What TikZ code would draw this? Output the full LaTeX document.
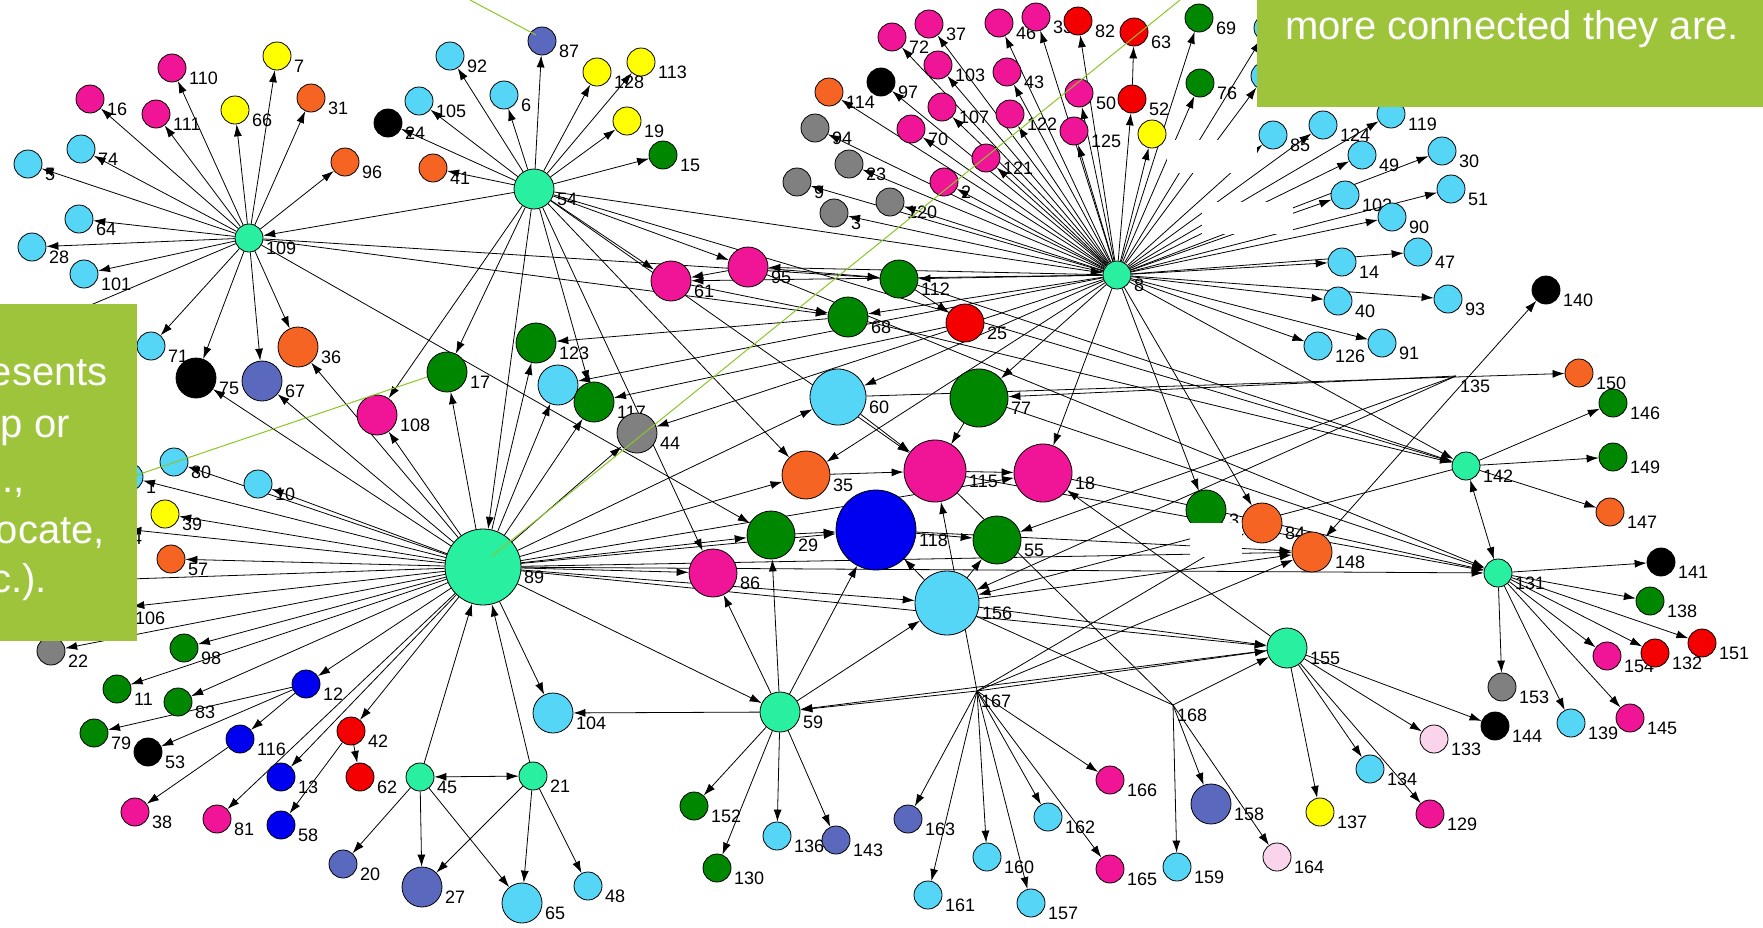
\documentclass[tikz,border=0pt]{standalone}
\usepackage{fontspec}
\setmainfont{Liberation Sans}
\usetikzlibrary{arrows.meta}
\definecolor{ccy}{RGB}{86,214,246}
\definecolor{chub}{RGB}{40,240,160}
\definecolor{cmag}{RGB}{240,20,150}
\definecolor{cyel}{RGB}{255,255,0}
\definecolor{cora}{RGB}{245,100,35}
\definecolor{cgrn}{RGB}{0,135,0}
\definecolor{cgry}{RGB}{128,128,128}
\definecolor{cslt}{RGB}{90,105,190}
\definecolor{cblu}{RGB}{0,0,240}
\definecolor{cred}{RGB}{245,0,0}
\definecolor{cpal}{RGB}{250,212,235}
\definecolor{boxg}{RGB}{157,196,58}
\definecolor{anng}{RGB}{140,198,40}
\pgfdeclarelayer{bg}\pgfsetlayers{bg,main}
\tikzset{
 vtx/.style={circle,draw=black,line width=0.8pt,inner sep=0pt},
 lbl/.style={anchor=north west,inner sep=0pt,font=\fontsize{18}{18}\selectfont},
 arr/.style={draw=black,line width=0.8pt,-{Latex[length=12pt,width=8pt]}},
 arrb/.style={draw=black,line width=0.8pt,{Latex[length=12pt,width=8pt]}-{Latex[length=12pt,width=8pt]}},
 ann/.style={draw=anng,line width=1pt},
 boxtxt/.style={text=white,inner sep=0pt,font=\fontsize{40}{40}\selectfont}
}
\newcommand\mknode[6]{%
 \node[vtx,minimum size=#4*2pt,fill=#5] (#1) at (#2,#3) {};
 \node[lbl] (#1l) at ({#2+#4+3},{#3+4}) {#6};}
\newcommand\mkpoint[4]{%
 \coordinate (#1) at (#2,#3);
 \node[lbl] (#1l) at ({#2+4},{#3+4}) {#4};}
\begin{document}
\begin{tikzpicture}[x=1pt,y=-1pt]
\useasboundingbox (0,0) rectangle (1763,927);
% ---- nodes: 109 cluster
\mknode{n109}{249}{238}{14}{chub}{109}
\mknode{n110}{172}{68}{14}{cmag}{110}
\mknode{n16}{90}{99}{14}{cmag}{16}
\mknode{n111}{156}{114}{14}{cmag}{111}
\mknode{n66}{235}{110}{14}{cyel}{66}
\mknode{n7}{277}{56}{14}{cyel}{7}
\mknode{n31}{311}{98}{14}{cora}{31}
\mknode{n96}{345}{162}{14}{cora}{96}
\mknode{n74}{81}{149}{14}{ccy}{74}
\mknode{n5}{28}{164}{14}{ccy}{5}
\mknode{n64}{79}{219}{14}{ccy}{64}
\mknode{n28}{32}{247}{14}{ccy}{28}
\mknode{n101}{84}{274}{14}{ccy}{101}
\mknode{n71}{151}{346}{14}{ccy}{71}
\mknode{n75}{196}{378}{20}{black}{75}
\mknode{n67}{262}{381}{20}{cslt}{67}
\mknode{n36}{298}{347}{20}{cora}{36}
\mknode{n24}{388}{123}{14}{black}{24}
\mknode{n105}{419}{101}{14}{ccy}{105}
\mknode{n41}{433}{168}{14}{cora}{41}
% ---- 54 cluster
\mknode{n54}{534}{189}{20}{chub}{54}
\mknode{n87}{542}{41}{14}{cslt}{87}
\mknode{n92}{450}{56}{14}{ccy}{92}
\mknode{n6}{504}{95}{14}{ccy}{6}
\mknode{n128}{597}{72}{14}{cyel}{128}
\mknode{n113}{641}{62}{14}{cyel}{113}
\mknode{n19}{627}{121}{14}{cyel}{19}
\mknode{n15}{663}{155}{14}{cgrn}{15}
\mknode{n95}{748}{267}{20}{cmag}{95}
\mknode{n61}{671}{281}{20}{cmag}{61}
\mknode{n112}{899}{279}{19}{cgrn}{112}
\mknode{n68}{848}{317}{20}{cgrn}{68}
\mknode{n25}{965}{323}{19}{cred}{25}
% ---- 8 cluster
\mknode{n8}{1117}{275}{14}{chub}{8}
\mknode{n114}{829}{92}{14}{cora}{114}
\mknode{n97}{881}{82}{14}{black}{97}
\mknode{n94}{815}{128}{14}{cgry}{94}
\mknode{n23}{849}{164}{14}{cgry}{23}
\mknode{n9}{797}{182}{14}{cgry}{9}
\mknode{n3}{834}{213}{14}{cgry}{3}
\mknode{n120}{890}{202}{14}{cgry}{120}
\mknode{n72}{892}{37}{14}{cmag}{72}
\mknode{n37}{929}{24}{14}{cmag}{37}
\mknode{n103}{938}{65}{14}{cmag}{103}
\mknode{n107}{942}{107}{14}{cmag}{107}
\mknode{n70}{911}{129}{14}{cmag}{70}
\mknode{n121}{986}{158}{14}{cmag}{121}
\mknode{n2}{944}{182}{14}{cmag}{2}
\mknode{n46}{999}{23}{14}{cmag}{46}
\mknode{n33}{1036}{17}{14}{cmag}{33}
\mknode{n82}{1078}{21}{14}{cred}{82}
\mknode{n63}{1134}{32}{14}{cred}{63}
\mknode{n43}{1007}{72}{14}{cmag}{43}
\mknode{n122}{1010}{114}{14}{cmag}{122}
\mknode{n50}{1079}{93}{14}{cmag}{50}
\mknode{n125}{1074}{131}{14}{cmag}{125}
\mknode{n52}{1132}{99}{14}{cred}{52}
\mknode{nY}{1152}{134}{14}{cyel}{}
\mknode{n69}{1199}{18}{14}{cgrn}{69}
\mknode{n76}{1200}{83}{14}{cgrn}{76}
\mknode{hA}{1268}{28}{14}{ccy}{}
\mknode{hB}{1265}{76}{14}{ccy}{}
\mknode{n85}{1273}{135}{14}{ccy}{85}
\mknode{n124}{1323}{125}{14}{ccy}{124}
\mknode{n119}{1391}{114}{14}{ccy}{119}
\mknode{n49}{1362}{155}{14}{ccy}{49}
\mknode{n30}{1442}{151}{14}{ccy}{30}
\mknode{n102}{1345}{195}{14}{ccy}{102}
\mknode{n51}{1451}{189}{14}{ccy}{51}
\mknode{n90}{1392}{217}{14}{ccy}{90}
\mknode{n47}{1418}{252}{14}{ccy}{47}
\mknode{n14}{1342}{262}{14}{ccy}{14}
\mknode{n40}{1338}{301}{14}{ccy}{40}
\mknode{n93}{1448}{299}{14}{ccy}{93}
\mknode{n140}{1546}{290}{14}{black}{140}
\mknode{n126}{1318}{346}{14}{ccy}{126}
\mknode{n91}{1382}{343}{14}{ccy}{91}
% ---- middle
\mknode{n17}{447}{372}{20}{cgrn}{17}
\mknode{n108}{377}{415}{20}{cmag}{108}
\mknode{n123}{536}{343}{20}{cgrn}{123}
\mknode{nC}{558}{385}{20}{ccy}{}
\mknode{n117}{594}{402}{20}{cgrn}{117}
\mknode{n44}{637}{433}{20}{cgry}{44}
\mknode{n60}{838}{397}{28}{ccy}{60}
\mknode{n77}{979}{398}{29}{cgrn}{77}
\mknode{n35}{806}{475}{24}{cora}{35}
\mknode{n115}{935}{471}{31}{cmag}{115}
\mknode{n18}{1043}{473}{29}{cmag}{18}
\mknode{n89}{483}{567}{38}{chub}{89}
\mknode{n29}{771}{535}{24}{cgrn}{29}
\mknode{n86}{713}{573}{24}{cmag}{86}
\mknode{n118}{876}{530}{40}{cblu}{118}
\mknode{n55}{997}{540}{24}{cgrn}{55}
\mknode{n156}{947}{603}{32}{ccy}{156}
\mknode{nG}{1206}{510}{20}{cgrn}{3}
\mknode{n84}{1262}{523}{20}{cora}{84}
\mknode{n148}{1312}{552}{20}{cora}{148}
\mkpoint{n135}{1456}{376}{135}
\mknode{n150}{1579}{373}{14}{cora}{150}
\mknode{n146}{1613}{403}{14}{cgrn}{146}
\mknode{n149}{1613}{457}{14}{cgrn}{149}
\mknode{n142}{1466}{466}{14}{chub}{142}
\mknode{n147}{1610}{512}{14}{cora}{147}
\mknode{n131}{1498}{573}{14}{chub}{131}
\mknode{n141}{1661}{562}{14}{black}{141}
\mknode{n138}{1650}{601}{14}{cgrn}{138}
\mknode{n154}{1607}{656}{14}{cmag}{154}
\mknode{n132}{1655}{653}{14}{cred}{132}
\mknode{n151}{1702}{643}{14}{cred}{151}
\mknode{n153}{1502}{687}{14}{cgry}{153}
\mknode{n144}{1495}{726}{14}{black}{144}
\mknode{n139}{1571}{723}{14}{ccy}{139}
\mknode{n145}{1630}{718}{14}{cmag}{145}
\mknode{n133}{1434}{739}{14}{cpal}{133}
\mknode{n134}{1370}{769}{14}{ccy}{134}
\mknode{n129}{1430}{814}{14}{cmag}{129}
\mknode{n137}{1320}{812}{14}{cyel}{137}
\mknode{n155}{1287}{648}{20}{chub}{155}
\mkpoint{n167}{977}{691}{167}
\mkpoint{n168}{1173}{705}{168}
\mknode{n166}{1110}{780}{14}{cmag}{166}
\mknode{n163}{908}{819}{14}{cslt}{163}
\mknode{n162}{1048}{817}{14}{ccy}{162}
\mknode{n158}{1211}{804}{20}{cslt}{158}
\mknode{n160}{987}{857}{14}{ccy}{160}
\mknode{n165}{1110}{869}{14}{cmag}{165}
\mknode{n159}{1177}{867}{14}{ccy}{159}
\mknode{n164}{1277}{857}{14}{cpal}{164}
\mknode{n161}{928}{895}{14}{ccy}{161}
\mknode{n157}{1031}{903}{14}{ccy}{157}
% ---- bottom left
\mknode{n104}{553}{713}{20}{ccy}{104}
\mknode{n59}{780}{712}{20}{chub}{59}
\mknode{n21}{533}{776}{14}{chub}{21}
\mknode{n45}{420}{777}{14}{chub}{45}
\mknode{n152}{694}{806}{14}{cgrn}{152}
\mknode{n136}{777}{836}{14}{ccy}{136}
\mknode{n143}{836}{840}{14}{cslt}{143}
\mknode{n130}{717}{868}{14}{cgrn}{130}
\mknode{n65}{522}{903}{20}{ccy}{65}
\mknode{n48}{588}{886}{14}{ccy}{48}
\mknode{n27}{422}{887}{20}{cslt}{27}
\mknode{n20}{343}{864}{14}{cslt}{20}
\mknode{n22}{51}{651}{14}{cgry}{22}
\mknode{n98}{184}{648}{14}{cgrn}{98}
\mknode{n11}{117}{689}{14}{cgrn}{11}
\mknode{n83}{178}{702}{14}{cgrn}{83}
\mknode{n79}{94}{733}{14}{cgrn}{79}
\mknode{n53}{148}{752}{14}{black}{53}
\mknode{n12}{306}{684}{14}{cblu}{12}
\mknode{n116}{240}{739}{14}{cblu}{116}
\mknode{n42}{351}{731}{14}{cred}{42}
\mknode{n62}{360}{777}{14}{cred}{62}
\mknode{n13}{281}{777}{14}{cblu}{13}
\mknode{n38}{135}{812}{14}{cmag}{38}
\mknode{n81}{217}{819}{14}{cmag}{81}
\mknode{n58}{281}{825}{14}{cblu}{58}
\mknode{n80}{174}{462}{14}{ccy}{80}
\mknode{n10}{258}{484}{14}{ccy}{10}
\mknode{n39}{165}{514}{14}{cyel}{39}
\mknode{n57}{171}{559}{14}{cora}{57}
\mknode{n1}{129}{477}{14}{ccy}{1}
\mknode{n4h}{115}{528}{14}{ccy}{4}
\mknode{n106}{118}{608}{14}{ccy}{106}
\coordinate (hid1) at (100,580);
\coordinate (hid2) at (60,318);
% ---- edges
\begin{pgfonlayer}{bg}
\fill[white] (0,0) rectangle (1763,927);
\foreach \a/\b in {n109/n110,n109/n16,n109/n111,n109/n66,n109/n7,n109/n31,n109/n96,n109/n74,n109/n5,n109/n64,n109/n28,n109/n101,n109/n71,n109/n75,n109/n67,n109/n36,n109/n29,n109/n112,n109/n68,n109/hid2,n54/n109,
 n54/n92,n54/n6,n54/n87,n54/n128,n54/n113,n54/n19,n54/n15,n54/n24,n54/n41,n54/n105,n54/n61,n54/n95,n54/n8,n54/n17,n54/n108,n54/n89,n54/n35,n54/n86,n54/n117,n54/n142,n54/n115,
 n8/n72,n8/n37,n8/n103,n8/n97,n8/n107,n8/n70,n8/n121,n8/n2,n8/n46,n8/n33,n8/n82,n8/n50,n8/n43,n8/n122,n8/n125,n8/n52,n8/nY,n8/n69,n8/n76,n8/n85,n8/n124,n8/n119,n8/n49,n8/n30,n8/n102,n8/n51,n8/n90,n8/n47,n8/n14,n8/n40,n8/n93,n8/n126,n8/n91,n8/n114,n8/n94,n8/n23,n8/n9,n8/n3,n8/n120,n8/hA,n8/hB,n8/n68,n8/n112,n8/n77,n8/n18,n8/nG,n8/n84,n8/n60,n8/n44,n8/nC,n8/n95,n8/n61,n8/n142,n8/n35,n52/n63,
 n89/n17,n89/n123,n89/nC,n89/n117,n89/n44,n89/n60,n89/n35,n89/n29,n89/n86,n89/n104,n89/n59,n89/n108,n89/n75,n89/n67,n89/n36,n89/n80,n89/n10,n89/n1,n89/n39,n89/n57,n89/n4h,n89/hid1,n89/n106,n89/n22,n89/n98,n89/n11,n89/n83,n89/n12,n89/n42,n89/n13,n89/n81,n89/n131,n89/n155,n89/n156,n89/n148,n89/n18,n89/n118,n45/n89,n21/n89,
 n12/n116,n12/n53,n12/n79,n116/n38,n42/n62,n42/n58,n45/n20,n45/n27,n45/n65,n21/n27,n21/n65,n21/n48,
 n59/n104,n59/n152,n59/n130,n59/n136,n59/n143,n59/n86,n59/n29,n59/n118,n59/n156,n167/n59,n155/n59,
 n167/n163,n167/n161,n167/n160,n167/n157,n167/n162,n167/n165,n167/n166,n167/n155,n167/n115,n167/n84,n167/n148,
 n168/n159,n168/n158,n168/n164,n168/n155,
 n155/n137,n155/n134,n155/n129,n155/n133,n155/n144,n155/n18,n156/n155,
 n131/n141,n131/n138,n131/n151,n131/n132,n131/n154,n131/n145,n131/n139,n131/n153,n95/n131,n77/n131,n18/n131,n115/n131,
 n142/n146,n142/n149,n142/n147,n142/n156,n112/n142,n68/n142,
 n60/n150,n135/n77,n135/n55,n135/n156,
 n61/n68,n95/n61,n95/n112,n68/n123,n25/n117,n112/n25,n118/n55,n118/n148,n35/n115,n77/n115,n115/n18,n60/n115,n156/n148,n156/n118,n156/n55,n29/n118}
 \draw[arr] (\a) -- (\b);
\draw[line width=0.8pt] (n156) -- (n168);
\draw[line width=0.8pt] (n115) -- (n168);
\draw[arrb] (n45) -- (n21);
\draw[arrb] (n142) -- (n131);
\draw[arrb] (n148) -- (n140);
\end{pgfonlayer}
% ---- white patches
\fill[white] (1167,140) rectangle (1257,173);
\fill[white] (1202,202) rectangle (1293,234);
\fill[white] (1190,523) rectangle (1242,557);
% ---- annotation lines
\draw[ann] (470,0) -- (536,35);
\draw[ann] (1180,0) -- (492,556);
\draw[ann] (137,475) -- (427,377);
% ---- green boxes
\fill[boxg] (0,304) rectangle (137,641);
\fill[boxg] (1257,0) rectangle (1763,107);
\node[boxtxt,anchor=base east] (t1) at (108,385) {esents};
\node[boxtxt,anchor=base east] (t2) at (70,437) {p or};
\node[boxtxt,anchor=base east] (t3) at (25,492) {l.,};
\node[boxtxt,anchor=base east] (t4) at (105,543) {ocate,};
\node[boxtxt,anchor=base east] (t5) at (47,592) {c.).};
\node[boxtxt,anchor=base west] (t0) at (1285,39) {more connected they are.};
\end{tikzpicture}
\end{document}
